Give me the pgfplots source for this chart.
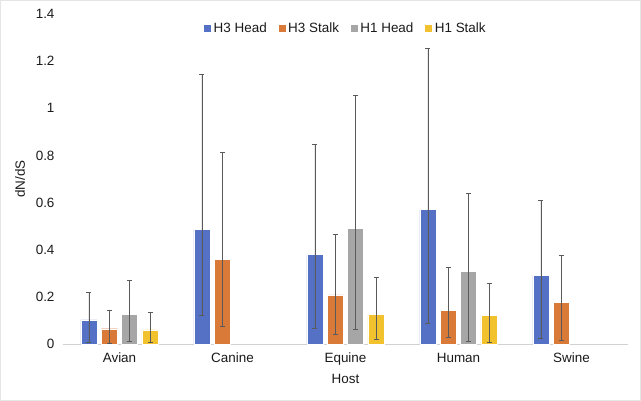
\documentclass[border=0pt]{standalone}
\usepackage{pgfplots}
\pgfplotsset{compat=1.18}
\usepackage{pgfplotstable}
\usepackage{fontspec}
\setmainfont{Liberation Sans}
\definecolor{cH3H}{HTML}{5571C6}
\definecolor{cH3S}{HTML}{DA7A38}
\definecolor{cH1H}{HTML}{A6A6A6}
\definecolor{cH1S}{HTML}{F2C12E}
\definecolor{ebar}{HTML}{5A5A5A}
\definecolor{txt}{HTML}{1A1A1A}

% x: 0 Avian, 1 Canine, 2 Equine, 3 Human, 4 Swine
\pgfplotstableread{
x y ep em
0 0.103 0.117 0.095
1 0.487 0.655 0.366
2 0.380 0.465 0.312
3 0.570 0.682 0.480
4 0.292 0.319 0.268
}\hthreehead
\pgfplotstableread{
x y ep em
0 0.066 0.078 0.062
1 0.360 0.454 0.285
2 0.209 0.257 0.169
3 0.143 0.182 0.115
4 0.178 0.199 0.162
}\hthreestalk
\pgfplotstableread{
x y ep em
0 0.127 0.144 0.114
2 0.491 0.563 0.430
3 0.310 0.329 0.297
}\honehead
\pgfplotstableread{
x y ep em
0 0.061 0.074 0.053
2 0.128 0.156 0.107
3 0.124 0.134 0.117
}\honestalk

\begin{document}
\begin{tikzpicture}
\draw[gray!20, line width=1bp] (-62.5bp,-56.2bp) rectangle (577.5bp,343.8bp);
\begin{axis}[
  scale only axis,
  width=565bp, height=330.6bp,
  xmin=-0.5, xmax=4.5,
  ymin=0, ymax=1.4,
  ytick={0,0.2,...,1.4},
  yticklabels={0,0.2,0.4,0.6,0.8,1,1.2,1.4},
  xtick={0,1,2,3,4},
  xticklabels={Avian,Canine,Equine,Human,Swine},
  major tick length=0,
  axis lines=left,
  axis line style={-},
  y axis line style={draw=none},
  x axis line style={draw=gray!35, line width=0.8bp},
  /pgf/number format/assume math mode=true,
  font=\fontsize{13.5}{15}\selectfont,
  tick label style={font=\fontsize{13.5}{15}\selectfont, text=txt},
  yticklabel style={xshift=-5bp},
  xticklabel style={yshift=-5bp},
  xlabel={Host},
  ylabel={dN/dS},
  xlabel style={at={(axis description cs:0.5,-0.105)}, anchor=center, text=txt},
  ylabel style={at={(axis description cs:-0.076,0.5)}, anchor=center, text=txt},
  ybar, bar width=0.142,
  error bars/error bar style={ebar, line width=0.8bp},
  error bars/error mark options={ebar, rotate=90, mark size=2.5bp, line width=0.8bp},
  legend columns=4,
  legend style={at={(0.5,0.985)}, anchor=north, draw=none, fill=none,
    font=\fontsize{13.5}{15}\selectfont, text=txt,
    /tikz/every even column/.append style={column sep=9bp}},
  legend image code/.code={\fill[#1] (0bp,-4bp) rectangle (8bp,4bp);},
  clip=false,
]
\addplot[fill=cH3H, draw=white, line width=0.4bp, bar shift=-0.27,
  error bars/.cd, y dir=both, y explicit]
  table[x=x, y=y, y error plus=ep, y error minus=em]{\hthreehead};
\addplot[fill=cH3S, draw=white, line width=0.4bp, bar shift=-0.09,
  error bars/.cd, y dir=both, y explicit]
  table[x=x, y=y, y error plus=ep, y error minus=em]{\hthreestalk};
\addplot[fill=cH1H, draw=white, line width=0.4bp, bar shift=0.09,
  error bars/.cd, y dir=both, y explicit]
  table[x=x, y=y, y error plus=ep, y error minus=em]{\honehead};
\addplot[fill=cH1S, draw=white, line width=0.4bp, bar shift=0.27,
  error bars/.cd, y dir=both, y explicit]
  table[x=x, y=y, y error plus=ep, y error minus=em]{\honestalk};
\legend{H3 Head, H3 Stalk, H1 Head, H1 Stalk}
\end{axis}
\end{tikzpicture}
\end{document}
